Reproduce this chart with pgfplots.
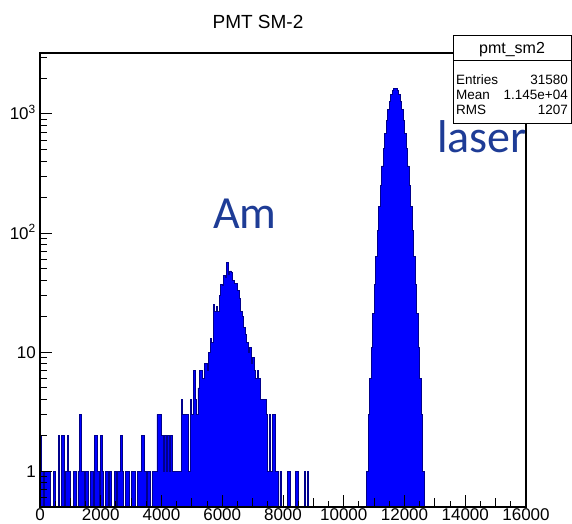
\documentclass[border=0pt]{standalone}
\usepackage{pgfplots}
\pgfplotsset{compat=1.18}
\usepackage{pgfplotstable}
\usepackage{fontspec}
\setmainfont{Liberation Sans}
\newfontfamily\calibri{Carlito}
\definecolor{histfill}{RGB}{0,0,255}
\definecolor{histline}{RGB}{0,0,140}
\definecolor{labelblue}{RGB}{30,60,150}

\pgfplotstableread{
x y
-50 0.01
0 2
50 1
100 0.01
150 1
200 1
250 1
300 1
350 0.01
400 0.01
450 1
500 0.01
550 0.01
600 2
650 0.01
700 2
750 2
800 0.01
850 1
900 2
950 1
1000 0.01
1050 0.01
1100 1
1150 1
1200 0.01
1250 1
1300 3
1350 1
1400 1
1450 0.01
1500 1
1550 1
1600 0.01
1650 1
1700 1
1750 0.01
1800 2
1850 2
1900 1
1950 0.01
2000 2
2050 1
2100 0.01
2150 1
2200 1
2250 0.01
2300 1
2350 0.01
2400 0.01
2450 1
2500 0.01
2550 1
2600 1
2650 2
2700 1
2750 0.01
2800 1
2850 1
2900 1
2950 0.01
3000 1
3050 1
3100 1
3150 0.01
3200 1
3250 1
3300 1
3350 2
3400 2
3450 1
3500 0.01
3550 1
3600 1
3650 0.01
3700 1
3750 1
3800 1
3850 3
3900 3
3950 3
4000 2
4050 1
4100 2
4150 1
4200 2
4250 1
4300 2
4350 1
4400 1
4450 1
4500 1
4550 1
4600 1
4650 4
4700 3
4750 3
4800 3
4850 3
4900 1
4950 4
5000 3
5050 7
5100 4
5150 3
5200 5
5250 7
5300 7
5350 6
5400 8
5450 8
5500 7
5550 10
5600 13
5650 12
5700 25
5750 22
5800 24
5850 22
5900 30
5950 37
6000 36
6050 44
6100 42
6150 57
6200 45
6250 48
6300 47
6350 40
6400 38
6450 38
6500 33
6550 28
6600 22
6650 20
6700 16
6750 14
6800 12
6850 10
6900 11
6950 8
7000 9
7050 7
7100 6
7150 7
7200 6
7250 4
7300 4
7350 4
7400 4
7450 3
7500 1
7550 3
7600 1
7650 3
7700 3
7750 1
7800 1
7850 0.01
7900 1
7950 0.01
8150 1
8200 1
8250 0.01
8400 1
8450 1
8500 0.01
8700 1
8750 0.01
8800 1
8850 0.01
10750 1
10800 3
10850 6
10900 11
10950 21
11000 37
11050 64
11100 105
11150 166
11200 252
11250 366
11300 511
11350 685
11400 879
11450 1082
11500 1278
11550 1449
11600 1574
11650 1641
11700 1641
11750 1574
11800 1449
11850 1278
11900 1082
11950 879
12000 685
12050 511
12100 366
12150 252
12200 166
12250 105
12300 64
12350 37
12400 21
12450 11
12500 6
12550 3
12600 1
12650 0.01
16000 0.01
}\histdata

\begin{document}
\begin{tikzpicture}
\useasboundingbox (0pt,0pt) rectangle (572pt,-523pt);
\begin{axis}[
  at={(40pt,-507pt)}, anchor=south west,
  scale only axis, width=486pt, height=454pt,
  xmin=0, xmax=16000, ymin=0.5, ymax=3250,
  ymode=log,
  axis on top,
  axis line style={line width=1.2pt},
  tick align=inside, xtick pos=left, ytick pos=left,
  xtick style={draw=black, line width=1pt},
  ytick style={draw=black, line width=1pt},
  major tick length=12pt, minor tick length=6pt,
  xtick={0,2000,4000,6000,8000,10000,12000,14000,16000},
  xticklabels={0,2000,4000,6000,8000,10000,12000,14000,16000},
  ytick={1,10,100,1000},
  yticklabels={1,10,10\textsuperscript{2},10\textsuperscript{3}},
  xticklabel style={font=\fontsize{17}{17}\selectfont, anchor=north, inner sep=0pt, yshift=-1.5pt},
  yticklabel style={font=\fontsize{17}{17}\selectfont, anchor=base east, inner sep=0pt, xshift=-4pt, yshift=-6pt},
  /pgf/number format/assume math mode=true,
  scaled x ticks=false,
]
\addplot[const plot, fill=histfill, draw=histline, line width=0.8pt, mark=none] table[x=x, y=y] {\histdata};
% tick marks along the axes
\pgfplotsinvokeforeach{0,2000,4000,6000,8000,10000,12000,14000,16000}{
  \draw[black, line width=1pt] (axis cs:#1,0.5) -- ++(0pt,12pt);}
\pgfplotsinvokeforeach{1000,3000,5000,7000,9000,11000,13000,15000}{
  \draw[black, line width=1pt] (axis cs:#1,0.5) -- ++(0pt,9pt);}
\pgfplotsinvokeforeach{500,1500,2500,3500,4500,5500,6500,7500,8500,9500,10500,11500,12500,13500,14500,15500}{
  \draw[black, line width=1pt] (axis cs:#1,0.5) -- ++(0pt,6pt);}
\pgfplotsinvokeforeach{1,10,100,1000}{
  \draw[black, line width=1pt] (axis cs:0,#1) -- ++(12pt,0pt);}
\pgfplotsinvokeforeach{0.6,0.7,0.8,0.9,2,3,4,5,6,7,8,9,20,30,40,50,60,70,80,90,200,300,400,500,600,700,800,900,2000,3000}{
  \draw[black, line width=1pt] (axis cs:0,#1) -- ++(7pt,0pt);}
\end{axis}
% title
\node[anchor=base, font=\fontsize{19}{19}\selectfont] at (258pt,-28pt) {PMT SM-2};
% stats box
\draw[fill=white, line width=1pt] (453pt,-35pt) rectangle (571.5pt,-123pt);
\draw[line width=1pt] (453pt,-60pt) -- (571.5pt,-60pt);
\node[anchor=base, font=\fontsize{16}{16}\selectfont] at (512pt,-53pt) {pmt\_sm2};
\node[anchor=base west, font=\fontsize{13.5}{13.5}\selectfont, inner sep=0pt] at (456pt,-84pt) {Entries};
\node[anchor=base east, font=\fontsize{13.5}{13.5}\selectfont, inner sep=0pt] at (568pt,-84pt) {31580};
\node[anchor=base west, font=\fontsize{13.5}{13.5}\selectfont, inner sep=0pt] at (456pt,-99pt) {Mean};
\node[anchor=base east, font=\fontsize{13.5}{13.5}\selectfont, inner sep=0pt] at (568pt,-99pt) {1.145e+04};
\node[anchor=base west, font=\fontsize{13.5}{13.5}\selectfont, inner sep=0pt] at (456pt,-114pt) {RMS};
\node[anchor=base east, font=\fontsize{13.5}{13.5}\selectfont, inner sep=0pt] at (568pt,-114pt) {1207};
% annotations
\node[anchor=base west, inner sep=0pt, text=labelblue, font=\calibri\fontsize{46}{46}\selectfont] at (213pt,-228pt) {Am};
\node[anchor=base west, inner sep=0pt, text=labelblue, font=\calibri\fontsize{46}{46}\selectfont] at (437pt,-152pt) {laser};
\end{tikzpicture}
\end{document}
